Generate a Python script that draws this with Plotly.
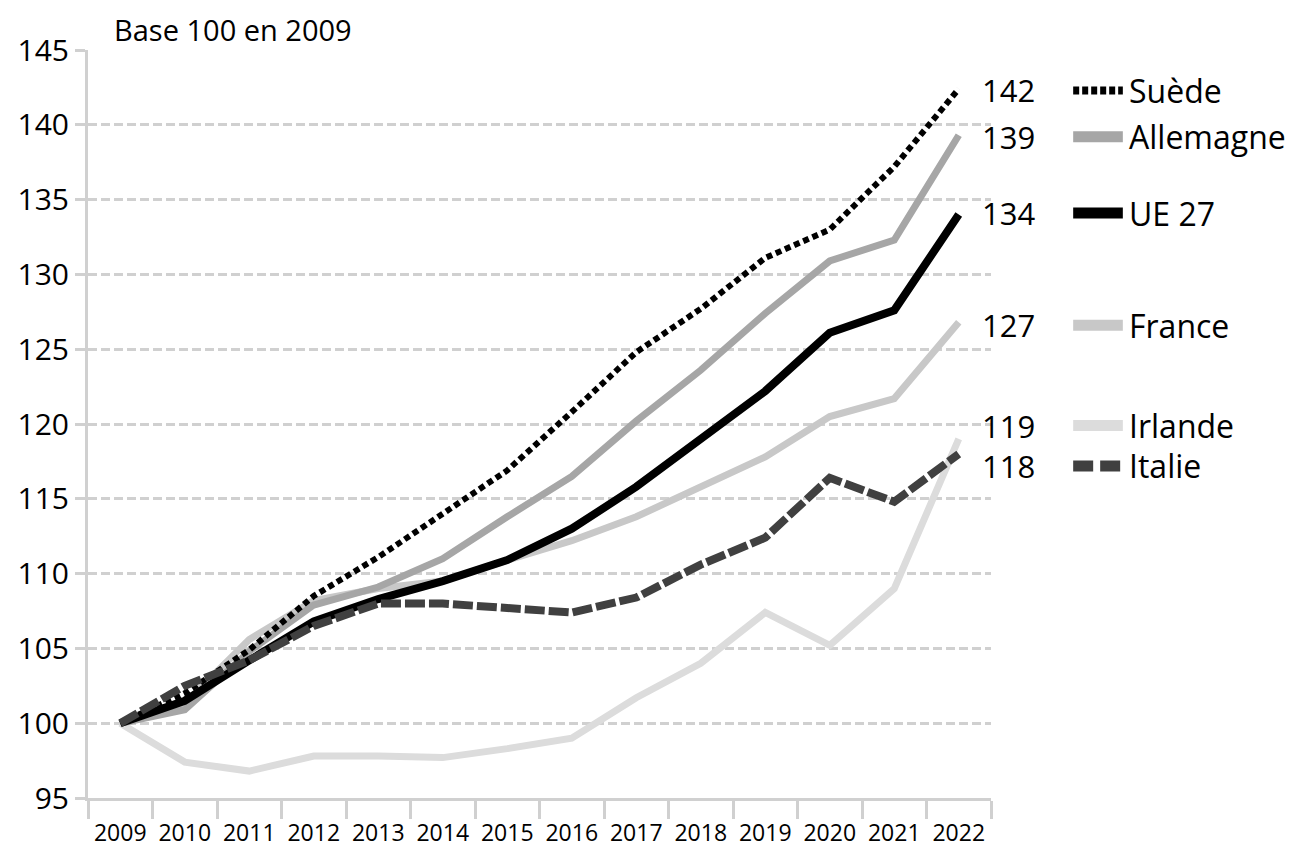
import plotly.graph_objects as go

years = [2009, 2010, 2011, 2012, 2013, 2014, 2015, 2016, 2017, 2018, 2019, 2020, 2021, 2022]

suede     = [100, 102.0, 104.9, 108.5, 111.1, 114.0, 116.9, 120.8, 124.8, 127.7, 131.1, 133.0, 137.2, 142.4]
allemagne = [100, 100.9, 104.8, 107.9, 109.1, 111.0, 113.8, 116.5, 120.2, 123.6, 127.4, 130.9, 132.3, 139.3]
ue27      = [100, 101.5, 104.2, 106.8, 108.3, 109.5, 110.9, 113.0, 115.8, 119.0, 122.2, 126.1, 127.6, 134.0]
france    = [100, 101.3, 105.6, 108.2, 109.0, 109.5, 110.9, 112.2, 113.8, 115.8, 117.8, 120.5, 121.7, 126.8]
irlande   = [100, 97.4, 96.8, 97.8, 97.8, 97.7, 98.3, 99.0, 101.7, 104.0, 107.4, 105.2, 109.0, 119.0]
italie    = [100, 102.5, 104.2, 106.5, 108.0, 108.0, 107.7, 107.4, 108.4, 110.6, 112.4, 116.4, 114.8, 118.0]

names = ["Suède", "Allemagne", "UE 27", "France", "Irlande", "Italie"]
series = [suede, allemagne, ue27, france, irlande, italie]
colors = ["#000000", "#a6a6a6", "#000000", "#c8c8c8", "#dcdcdc", "#404040"]
dashes = ["6px,4px", "solid", "solid", "solid", "solid", "20px,4px"]
widths = [6, 7, 8, 7, 7, 8]
legend_dashes = ["6px,3px", "solid", "solid", "solid", "solid", "20px,7px"]
legend_widths = [8, 11, 11, 11, 11, 11]
label_offsets = [-0.1, -0.1, 0.1, -0.2, 0.9, -0.8]

draw_order = [4, 3, 1, 2, 0, 5]

fig = go.Figure()
for i in draw_order:
    fig.add_trace(go.Scatter(
        x=years, y=series[i], mode="lines", name=names[i],
        line=dict(color=colors[i], width=widths[i], dash=dashes[i]),
        showlegend=False,
    ))

FONT = "'Open Sans', sans-serif"

# value labels and legend samples on the right
for i in range(len(names)):
    last = series[i][-1]
    ylab = last + label_offsets[i]
    fig.add_annotation(x=0.988, xref="paper", y=ylab, yref="y", text=str(round(last)),
                       showarrow=False, xanchor="left", yanchor="middle",
                       font=dict(family=FONT, size=31, color="#000000"))
    fig.add_annotation(x=1.151, xref="paper", y=ylab, yref="y", text=names[i],
                       showarrow=False, xanchor="left", yanchor="middle",
                       font=dict(family=FONT, size=32, color="#000000"))
    fig.add_shape(type="line", xref="paper", yref="y", x0=1.091, x1=1.146, y0=ylab, y1=ylab,
                  line=dict(color=colors[i], width=legend_widths[i], dash=legend_dashes[i]))

fig.add_annotation(x=0.027, xref="paper", y=1.0, yref="paper", text="Base 100 en 2009",
                   showarrow=False, xanchor="left", yanchor="bottom", yshift=-1,
                   font=dict(family=FONT, size=29, color="#000000"))

fig.update_xaxes(
    range=[2008.5, 2022.5], automargin=False,
    tickvals=years, ticktext=[str(y) for y in years],
    ticks="outside", ticklen=12, tickcolor="rgba(0,0,0,0)",
    showgrid=False, zeroline=False,
    showline=True, linecolor="#d0d0d0", linewidth=3,
    tickfont=dict(family=FONT, size=23, color="#000000"),
    minor=dict(tick0=2008.5, dtick=1, ticks="outside", ticklen=18, tickcolor="#d0d0d0", tickwidth=3, showgrid=False),
)
fig.update_yaxes(
    range=[95, 145], dtick=5, tick0=95, automargin=False,
    ticks="outside", ticklen=10, tickcolor="#d0d0d0", tickwidth=3,
    showgrid=True, gridcolor="#d0d0d0", gridwidth=3, griddash="9px,4px",
    zeroline=False, showline=True, linecolor="#d0d0d0", linewidth=3,
    tickfont=dict(family=FONT, size=30, color="#000000"),
)
fig.update_layout(
    width=1285, height=842,
    margin=dict(l=80, r=302, t=42, b=52),
    plot_bgcolor="#ffffff", paper_bgcolor="#ffffff",
    showlegend=False,
)
fig.write_html("out.html")
